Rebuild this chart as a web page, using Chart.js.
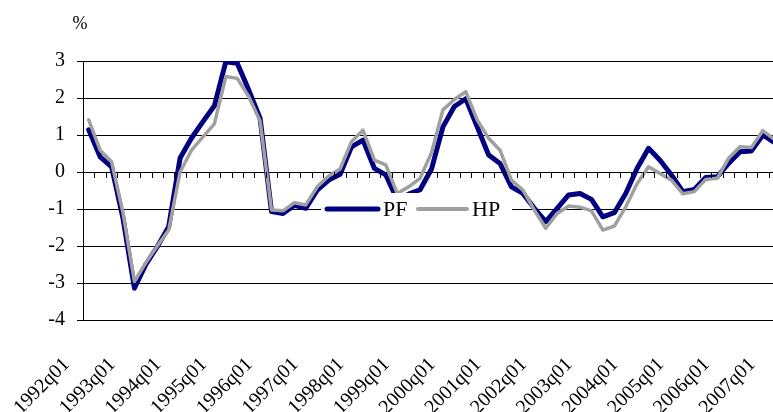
<!DOCTYPE html>
<html>
<head>
<meta charset="utf-8">
<style>
  html, body { margin: 0; padding: 0; background: #fff; overflow: hidden; }
  #wrap { width: 773px; height: 412px; overflow: hidden; }
  canvas { display: block; }
</style>
<script src="https://cdn.jsdelivr.net/npm/chart.js@4/dist/chart.umd.min.js"></script>
</head>
<body>
<div id="wrap"><canvas id="c" width="780" height="412"></canvas></div>
<script>
// Quarterly periods 1992q01 .. 2007q01
const years = [1992, 1993, 1994, 1995, 1996, 1997, 1998, 1999, 2000, 2001, 2002, 2003, 2004, 2005, 2006, 2007];
const quarters = ['q01', 'q02', 'q03', 'q04'];
const periods = [];
years.forEach(y => quarters.forEach(q => periods.push(y + q)));
periods.length = 61;

// Output gap estimates, %
const pf = [1.14, 0.41, 0.14, -1.25, -3.14, -2.5, -2.02, -1.48, 0.38, 0.92,
            1.36, 1.79, 2.98, 2.94, 2.22, 1.45, -1.07, -1.12, -0.9, -0.98,
            -0.49, -0.22, -0.06, 0.68, 0.86, 0.1, -0.08, -0.75, -0.6, -0.48,
            0.08, 1.22, 1.77, 1.98, 1.22, 0.46, 0.23, -0.4, -0.58, -0.98,
            -1.34, -0.98, -0.62, -0.58, -0.74, -1.21, -1.1, -0.58, 0.1, 0.64,
            0.32, -0.08, -0.53, -0.47, -0.15, -0.13, 0.23, 0.55, 0.57, 1.0, 0.8];
const hp = [1.41, 0.59, 0.28, -1.1, -2.96, -2.45, -2.0, -1.57, 0.0, 0.59,
            0.95, 1.3, 2.58, 2.53, 2.04, 1.38, -1.03, -1.05, -0.83, -0.89,
            -0.4, -0.11, 0.08, 0.82, 1.13, 0.32, 0.19, -0.58, -0.4, -0.17,
            0.52, 1.68, 1.96, 2.17, 1.41, 0.91, 0.59, -0.22, -0.49, -1.03,
            -1.52, -1.12, -0.92, -0.95, -1.05, -1.57, -1.46, -0.94, -0.31, 0.14,
            -0.04, -0.22, -0.59, -0.53, -0.2, -0.17, 0.37, 0.68, 0.66, 1.12, 0.88];

const yTicks = [3, 2, 1, 0, -1, -2, -3, -4];

const SERIF = '"Liberation Serif", "Times New Roman", serif';
const PF_COLOR = '#000080';
const HP_COLOR = '#a0a0a0';

// Tick marks along the zero line at the category boundaries
const zeroTicks = {
  id: 'zeroTicks',
  afterDraw(chart) {
    const x = chart.scales.x, y = chart.scales.y, ctx = chart.ctx;
    const y0 = y.getPixelForValue(0);
    const half = (x.getPixelForValue(1) - x.getPixelForValue(0)) / 2;
    ctx.save();
    ctx.strokeStyle = '#000';
    ctx.lineWidth = 1;
    ctx.beginPath();
    for (let i = 0; i < periods.length; i++) {
      const px = Math.round(x.getPixelForValue(i) + half) + 0.5;
      ctx.moveTo(px, y0);
      ctx.lineTo(px, y0 + 6);
    }
    ctx.stroke();
    ctx.restore();
  }
};

// Legend box sitting inside the plot, plus the "%" unit label
const innerLegend = {
  id: 'innerLegend',
  afterDatasetsDraw(chart) {
    const ctx = chart.ctx;
    const y = chart.scales.y;
    const cy = Math.round(y.getPixelForValue(-1));
    ctx.save();
    ctx.fillStyle = '#fff';
    ctx.fillRect(321, cy - 16, 191, 34);
    const items = [
      { label: 'PF', color: PF_COLOR, width: 5, x0: 327, x1: 378, tx: 383 },
      { label: 'HP', color: HP_COLOR, width: 4, x0: 418, x1: 467, tx: 472 }
    ];
    items.forEach(it => {
      ctx.strokeStyle = it.color;
      ctx.lineWidth = it.width;
      ctx.lineCap = 'round';
      ctx.beginPath();
      ctx.moveTo(it.x0, cy);
      ctx.lineTo(it.x1, cy);
      ctx.stroke();
      ctx.fillStyle = '#000';
      ctx.font = '22px ' + SERIF;
      ctx.textAlign = 'left';
      ctx.textBaseline = 'middle';
      ctx.fillText(it.label, it.tx, cy + 1);
    });
    ctx.restore();
  },
  afterDraw(chart) {
    const ctx = chart.ctx;
    ctx.save();
    ctx.fillStyle = '#000';
    ctx.font = '18px ' + SERIF;
    ctx.textAlign = 'center';
    ctx.textBaseline = 'middle';
    ctx.fillText('%', 80, 24);
    ctx.restore();
  }
};

new Chart(document.getElementById('c'), {
  type: 'line',
  data: {
    labels: periods,
    datasets: [
      { label: 'PF', data: pf, borderColor: PF_COLOR, borderWidth: 5, order: 2 },
      { label: 'HP', data: hp, borderColor: HP_COLOR, borderWidth: 3.5, order: 1 }
    ]
  },
  options: {
    responsive: false,
    animation: false,
    devicePixelRatio: 1,
    layout: { padding: { top: 61, right: 0, bottom: 0, left: 0 } },
    elements: {
      point: { radius: 0 },
      line: { tension: 0, borderJoinStyle: 'round', borderCapStyle: 'round', fill: false }
    },
    plugins: {
      legend: { display: false },
      tooltip: { enabled: false }
    },
    scales: {
      x: {
        type: 'category',
        offset: true,
        grid: { display: false },
        border: { display: false },
        ticks: {
          autoSkip: false,
          maxRotation: 45,
          minRotation: 45,
          color: '#000',
          font: { family: SERIF, size: 20 },
          padding: 25,
          labelOffset: -22,
          callback(value, index) {
            const l = periods[index];
            return l.endsWith('q01') ? l : '';
          }
        },
        afterFit(scale) {
          scale.height = 92;
          scale.paddingLeft = 0;
          scale.paddingRight = 0;
        }
      },
      y: {
        min: -4,
        max: 3,
        afterBuildTicks(scale) {
          scale.ticks = yTicks.map(v => ({ value: v }));
        },
        grid: { color: '#000', lineWidth: 1, tickLength: 6, drawTicks: true },
        border: { display: true, color: '#000', width: 1 },
        ticks: {
          color: '#000',
          font: { family: SERIF, size: 20 },
          padding: 12
        },
        afterFit(scale) {
          scale.width = 83;
        }
      }
    }
  },
  plugins: [zeroTicks, innerLegend]
});
</script>
</body>
</html>
